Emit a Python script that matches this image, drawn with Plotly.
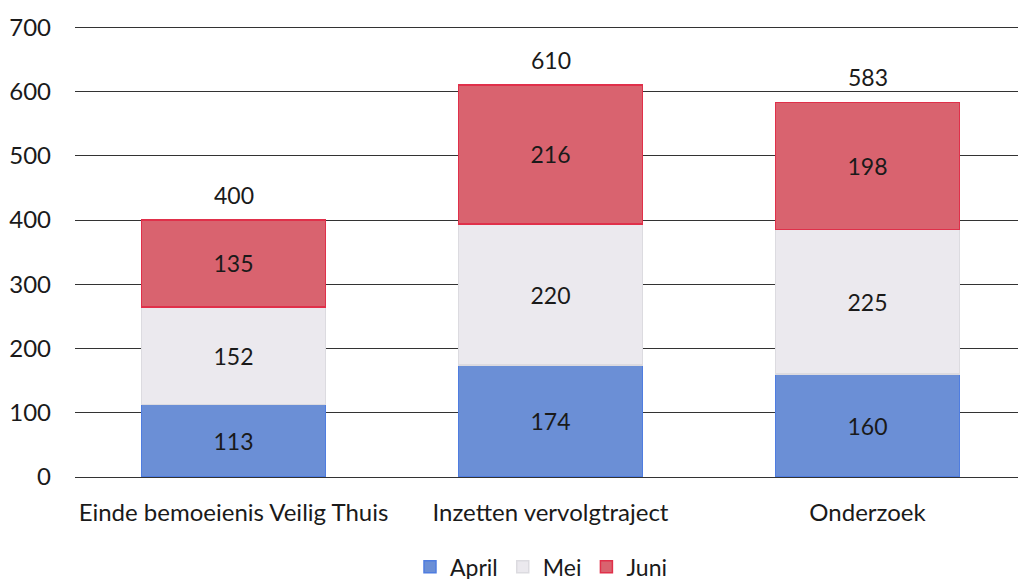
import plotly.graph_objects as go

categories = ["Einde bemoeienis Veilig Thuis", "Inzetten vervolgtraject", "Onderzoek"]
april = [113, 174, 160]
mei = [152, 220, 225]
juni = [135, 216, 198]
totals = [400, 610, 583]
y_ticks = [0, 100, 200, 300, 400, 500, 600, 700]

FONT = "Lato"
fig = go.Figure()
series = [
    ("April", april, "#6b8fd6", "#4f7de0"),
    ("Mei", mei, "#ebe9ee", "#dcdbe0"),
    ("Juni", juni, "#d9636f", "#e0304a"),
]
for name, vals, col, line in series:
    fig.add_trace(go.Bar(
        x=categories, y=vals, name=name,
        marker=dict(color=col, line=dict(color=line, width=1.5)),
        text=[str(v) for v in vals], textposition="inside",
        insidetextanchor="middle",
        textfont=dict(family=FONT, size=23, color="#1a1a1a"),
        width=0.58,
    ))

for c, t in zip(categories, totals):
    fig.add_annotation(x=c, y=t, text=str(t), showarrow=False, yanchor="bottom",
                       yshift=9, font=dict(family=FONT, size=23, color="#1a1a1a"))

fig.update_layout(
    barmode="stack",
    width=1018, height=579,
    margin=dict(l=67, r=0, t=18, b=110),
    paper_bgcolor="white", plot_bgcolor="white",
    font=dict(family=FONT, size=23, color="#1a1a1a"),
    showlegend=True,
    legend=dict(orientation="h", x=0.49, xanchor="center",
                yref="container", y=0.035, yanchor="middle",
                traceorder="normal", font=dict(family=FONT, size=23),
                itemwidth=30),
)
fig.update_xaxes(showgrid=False, showline=False, ticks="",
                 ticklabelstandoff=19,
                 tickfont=dict(family=FONT, size=24))
fig.update_yaxes(range=[0, 702], tickvals=y_ticks, showgrid=True,
                 gridcolor="#333333", gridwidth=1, zeroline=True,
                 zerolinecolor="#333333", zerolinewidth=1, showline=False,
                 ticklabelstandoff=23, tickfont=dict(family=FONT, size=24))

fig.write_html("out.html")
